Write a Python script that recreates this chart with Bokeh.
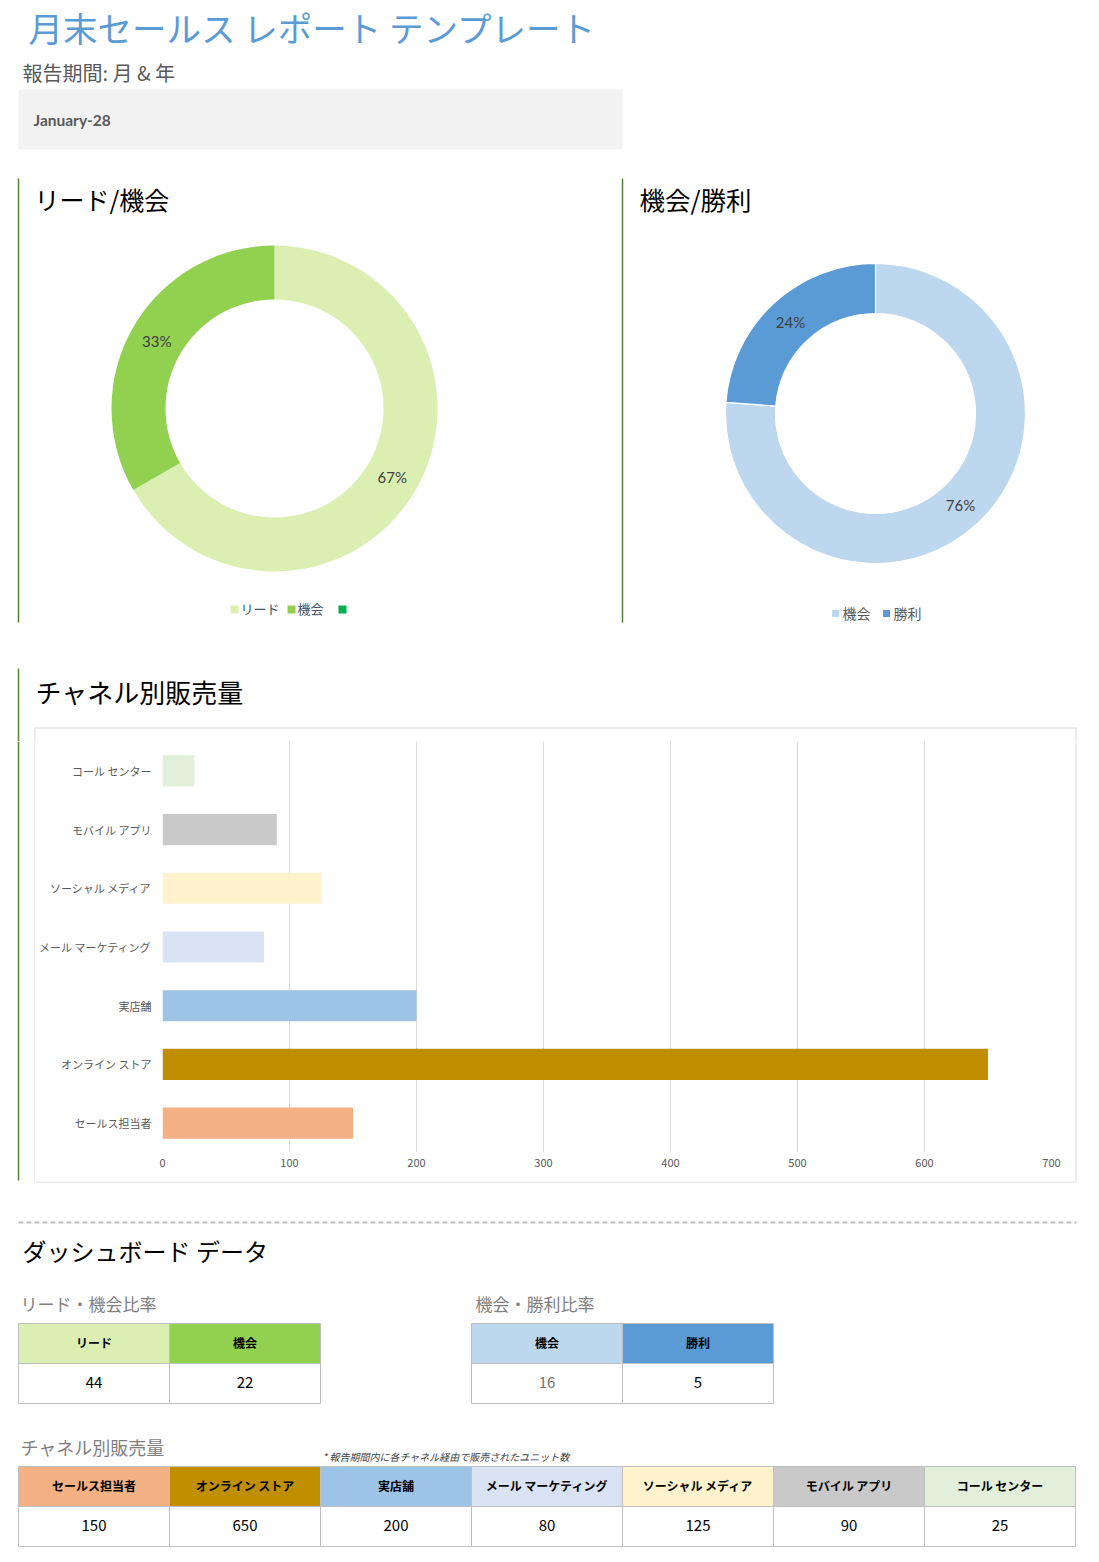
import math
from bokeh.plotting import figure
from bokeh.layouts import column, row
from bokeh.models import Range1d, FactorRange, Label, FixedTicker
from bokeh.embed import file_html
from bokeh.resources import INLINE

# ---------------- data ----------------
report_title = "月末セールス レポート テンプレート"
period_label = "報告期間: 月 & 年"
period_value = "January-28"

lead_opp_title = "リード/機会"
lead_opp_labels = ["リード", "機会"]
lead_opp_values = [44, 22]
lead_opp_colors = ["#dbefb2", "#92d050"]
lead_opp_extra_legend_color = "#00b050"

opp_win_title = "機会/勝利"
opp_win_labels = ["機会", "勝利"]
opp_win_values = [16, 5]
opp_win_colors = ["#bdd7ee", "#5b9bd5"]

channel_title = "チャネル別販売量"
channels = ["セールス担当者", "オンライン ストア", "実店舗", "メール マーケティング",
            "ソーシャル メディア", "モバイル アプリ", "コール センター"]
channel_sales = [150, 650, 200, 80, 125, 90, 25]
channel_colors = ["#f4b183", "#bf8f00", "#9dc3e6", "#dae3f3", "#fff2cc", "#c9c9c9", "#e2efda"]
sales_ticks = [0, 100, 200, 300, 400, 500, 600, 700]

dashboard_title = "ダッシュボード データ"
lead_opp_table_title = "リード・機会比率"
opp_win_table_title = "機会・勝利比率"
channel_table_title = "チャネル別販売量"
channel_note = "* 報告期間内に各チャネル経由で販売されたユニット数"

JP = "Noto Sans CJK JP"
NUM = "Lato"
W = 1091
GREEN_LINE = "#548235"
BOX_LINE = "#d9d9d9"


def canvas_fig(w, h, x0, y0):
    """A blank drawing surface whose data units are the page's pixels."""
    p = figure(width=w, height=h, x_range=Range1d(x0, x0 + w), y_range=Range1d(y0 + h, y0),
               x_axis_location=None, y_axis_location=None, toolbar_location=None,
               output_backend="svg", min_border=0, outline_line_color=None)
    p.frame_align = False
    p.grid.visible = False
    p.background_fill_color = "white"
    p.border_fill_color = "white"
    return p


def txt(p, x, y, t, size, color="#000000", font=JP, align="left", style="normal",
        baseline="middle"):
    p.add_layout(Label(x=x, y=y, text=t, text_font=font, text_font_size=f"{size}px",
                       text_color=color, text_align=align, text_baseline=baseline,
                       text_font_style=style))


def donut(p, cx, cy, r_in, r_out, values, colors, sep):
    total = sum(values)
    f0s, f1s, acc = [], [], 0.0
    for v in values:
        f0s.append(acc / total)
        acc += v
        f1s.append(acc / total)
    starts = [math.pi / 2 - 2 * math.pi * f1 for f1 in f1s]
    ends = [math.pi / 2 - 2 * math.pi * f0 for f0 in f0s]
    p.annular_wedge(x=[cx] * len(values), y=[cy] * len(values), inner_radius=r_in,
                    outer_radius=r_out, start_angle=starts, end_angle=ends,
                    direction="anticlock", fill_color=colors,
                    line_color=sep, line_width=1.2 if sep else 0)
    rm = (r_in + r_out) / 2
    for v, f0, f1 in zip(values, f0s, f1s):
        phi = 2 * math.pi * (f0 + f1) / 2
        lx = cx + rm * math.sin(phi)
        ly = cy - rm * math.cos(phi)
        txt(p, lx, ly, f"{round(100 * v / total)}%", 15, "#404040", NUM, "center")


# ---------------- top: header + donuts (page y 0..660) ----------------
top = canvas_fig(W, 660, 0, 0)
txt(top, 28, 26, report_title, 34.5, "#5b9bd5")
txt(top, 22, 72, period_label, 20, "#595959")
top.quad(left=[18], right=[622], top=[89], bottom=[149], fill_color="#f2f2f2", line_color=None)
txt(top, 33, 119, period_value, 15.5, "#595959", NUM, style="bold")

top.segment(x0=[18, 622], y0=[178, 178], x1=[18, 622], y1=[622, 622],
            line_color=GREEN_LINE, line_width=1.5)
txt(top, 34, 198, lead_opp_title, 25, "#000000")
txt(top, 639, 198, opp_win_title, 25.5, "#000000")

donut(top, 274, 408, 109, 163, lead_opp_values, lead_opp_colors, None)
donut(top, 875, 413, 100, 150, opp_win_values, opp_win_colors, "white")

leg1_x = [234, 291]
for lx, lab, col in zip(leg1_x, lead_opp_labels, lead_opp_colors):
    top.rect(x=[lx], y=[609], width=8, height=8, fill_color=col, line_color=None)
    txt(top, lx + 6, 608, lab, 13, "#44546a")
top.rect(x=[342], y=[609], width=8, height=8, fill_color=lead_opp_extra_legend_color, line_color=None)

leg2_x = [835, 886]
for lx, lab, col in zip(leg2_x, opp_win_labels, opp_win_colors):
    top.rect(x=[lx], y=[613], width=7, height=7, fill_color=col, line_color=None)
    txt(top, lx + 7, 612, lab, 14, "#595959")

# ---------------- bar chart section (page y 660..1200) ----------------
bar_head = canvas_fig(W, 81, 0, 660)
bar_head.segment(x0=[18], y0=[668], x1=[18], y1=[741], line_color=GREEN_LINE, line_width=1.5)
txt(bar_head, 35, 691, channel_title, 26, "#000000")
bar_head.segment(x0=[34, 34.5, 1075.5], y0=[727.5, 727, 727], x1=[1076, 34.5, 1075.5],
                 y1=[727.5, 741, 741], line_color=BOX_LINE, line_width=1)

bar_left = canvas_fig(35, 440, 0, 741)
bar_left.segment(x0=[18], y0=[741], x1=[18], y1=[1180], line_color=GREEN_LINE, line_width=1.5)
bar_left.segment(x0=[34.5], y0=[741], x1=[34.5], y1=[1181], line_color=BOX_LINE, line_width=1)

bar_right = canvas_fig(W - 1070, 440, 1070, 741)
bar_right.segment(x0=[1075.5], y0=[741], x1=[1075.5], y1=[1181], line_color=BOX_LINE, line_width=1)

# the chart itself: page x 35..1070, y 741..1181
bar = figure(width=1035, height=440, y_range=FactorRange(*channels), x_range=Range1d(0, 700),
             toolbar_location=None, output_backend="svg",
             min_border_left=127, min_border_right=19, min_border_top=0, min_border_bottom=29,
             outline_line_color=None)
bar.frame_align = False
bar.hbar(y=channels, right=channel_sales, height=0.53, fill_color=channel_colors, line_color=None)
bar.ygrid.visible = False
bar.xgrid.grid_line_color = BOX_LINE
bar.xaxis.ticker = FixedTicker(ticks=sales_ticks)
for ax in (bar.xaxis, bar.yaxis):
    ax.axis_line_color = None
    ax.major_tick_line_color = None
    ax.minor_tick_line_color = None
    ax.major_tick_out = 0
    ax.major_tick_in = 0
    ax.major_label_text_color = "#595959"
    ax.major_label_text_font = JP
bar.xaxis.major_label_text_font_size = "11px"
bar.xaxis.major_label_standoff = 6
bar.yaxis.major_label_text_font_size = "11px"
bar.yaxis.major_label_standoff = 11

bar_foot = canvas_fig(W, 19, 0, 1181)
bar_foot.segment(x0=[34], y0=[1181.5], x1=[1076], y1=[1181.5], line_color=BOX_LINE, line_width=1)

bar_section = column(bar_head, row(bar_left, bar, bar_right, spacing=0), bar_foot, spacing=0)

# ---------------- bottom: dashboard data (page y 1200..1556) ----------------
bot = canvas_fig(W, 356, 0, 1200)
bot.line([18, 1076], [1222, 1222], line_color="#bfbfbf", line_width=2, line_dash="5 3")
txt(bot, 22, 1250, dashboard_title, 24, "#000000")
txt(bot, 20, 1303, lead_opp_table_title, 17, "#7f7f7f")
txt(bot, 475, 1303, opp_win_table_title, 17, "#7f7f7f")


def table(p, x0, cw, y_head, y_mid, y_bot, labels, values, colors, value_colors):
    n = len(labels)
    lefts = [x0 + i * cw for i in range(n)]
    rights = [l + cw for l in lefts]
    p.quad(left=lefts, right=rights, top=[y_head] * n, bottom=[y_mid] * n,
           fill_color=colors, line_color="#bfbfbf", line_width=1)
    p.quad(left=lefts, right=rights, top=[y_mid] * n, bottom=[y_bot] * n,
           fill_color="white", line_color="#bfbfbf", line_width=1)
    for l, lab, v, vc in zip(lefts, labels, values, value_colors):
        txt(p, l + cw / 2, (y_head + y_mid) / 2 - 1, lab, 12, "#000000", JP, "center", "bold")
        txt(p, l + cw / 2, (y_mid + y_bot) / 2 - 1, str(v), 15, vc, JP, "center")


table(bot, 18, 151, 1323, 1363, 1403, lead_opp_labels, lead_opp_values, lead_opp_colors,
      ["#000000", "#000000"])
table(bot, 471, 151, 1323, 1363, 1403, opp_win_labels, opp_win_values, opp_win_colors,
      ["#7f7068", "#000000"])

txt(bot, 20, 1446, channel_table_title, 18, "#7f7f7f")
txt(bot, 322, 1456, channel_note, 10, "#404040", style="italic")
table(bot, 18, 151, 1466, 1506, 1546, channels, channel_sales, channel_colors,
      ["#000000"] * len(channels))

layout = column(top, bar_section, bot, spacing=0)
open("out.html", "w").write(file_html(layout, INLINE))
